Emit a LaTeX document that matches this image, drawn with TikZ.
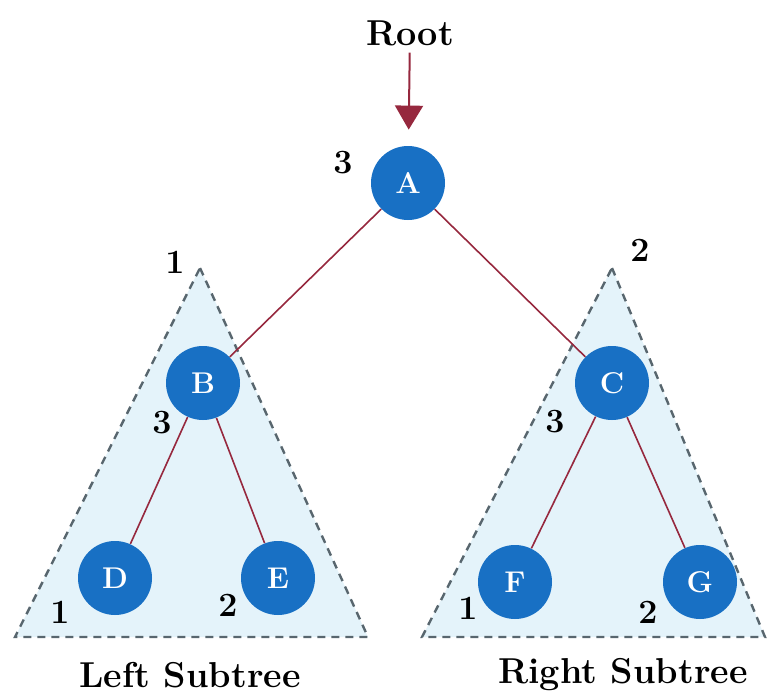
\documentclass[tikz,border=0pt]{standalone}
\usepackage{tikz}
\usetikzlibrary{arrows.meta, positioning}
\definecolor{NodeBlue}{RGB}{24,112,196}
\definecolor{EdgeRed}{RGB}{150,40,62}
\definecolor{ShadeBlue}{RGB}{228,243,250}
\definecolor{DashGray}{RGB}{88,102,110}

\begin{document}
\begin{tikzpicture}[x=0.5pt, y=-0.5pt,
	vert/.style={circle, fill=NodeBlue, text=white, minimum size=37pt,
		inner sep=0pt, font=\fontsize{15}{15}\selectfont\bfseries},
	arista/.style={EdgeRed, line width=0.8pt},
	zona/.style={fill=ShadeBlue, draw=DashGray, line width=1.2pt,
		dash pattern=on 4pt off 3pt},
	num/.style={font=\fontsize{17}{17}\selectfont\bfseries},
	rotulo/.style={font=\fontsize{18}{18}\selectfont\bfseries}]
	\useasboundingbox (0,0) rectangle (767,696);

	% zonas de los subarboles
	\draw[zona] (200,268) -- (368,637) -- (15,637) -- cycle;
	\draw[zona] (612,268) -- (765,637) -- (422,637) -- cycle;

	\foreach \n/\x/\y in {A/408/183, B/203/383, C/612/383,
	                      D/115/578, E/278/578, F/515/582, G/700/582}{
		\node[vert] (\n) at (\x,\y) {\n};
	}
	\foreach \a/\b in {A/B, A/C, B/D, B/E, C/F, C/G}{
		\draw[arista] (\a) -- (\b);
	}

	\node[rotulo] (raiz) at (410,33) {Root};
	\draw[EdgeRed, line width=1pt, shorten >=8pt,
		-{Triangle[length=12pt, width=14pt]}] (raiz) -- (A);

	\foreach \t/\x/\y [count=\k] in {3/343/163, 1/175/262, 2/640/250,
	                                 3/162/423, 3/555/422, 1/60/612,
	                                 2/228/605, 1/468/608, 2/648/612}{
		\node[num] (n\k) at (\x,\y) {\t};
	}

	\node[rotulo] (izq) at (190,675) {Left Subtree};
	\node[rotulo] (der) at (623,675) {Right Subtree};
\end{tikzpicture}
\end{document}
